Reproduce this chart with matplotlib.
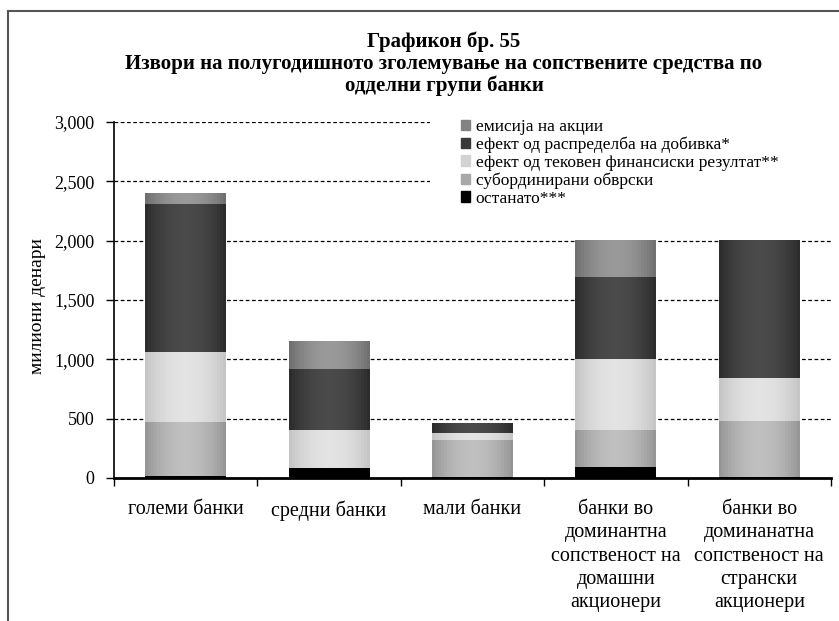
"""
Stacked bar chart: sources of the half-year increase of own funds by bank group
(Графикон бр. 55). Grey cylinder-like shading drawn as thin vertical strips.
"""
import numpy as np
import matplotlib
matplotlib.use("Agg")
import matplotlib.pyplot as plt  # noqa: E402
from matplotlib.lines import Line2D  # noqa: E402
from matplotlib.patches import Rectangle  # noqa: E402

plt.rcParams["font.family"] = ["Liberation Serif", "DejaVu Serif"]

categories = [
    "големи банки",
    "средни банки",
    "мали банки",
    "банки во\nдоминантна\nсопственост на\nдомашни\nакционери",
    "банки во\nдоминанатна\nсопственост на\nстрански\nакционери",
]

# stacked bottom -> top
series_names = [
    "останато***",
    "субординирани обврски",
    "ефект од тековен финансиски резултат**",
    "ефект од распределба на добивка*",
    "емисија на акции",
]
ostanato = [15, 87, 5, 93, 10]
subordinirani = [460, 0, 315, 311, 470]
tekoven = [590, 320, 59, 599, 363]
raspredelba = [1246, 514, 84, 691, 1163]
emisija = [93, 236, 0, 311, 0]
values = [ostanato, subordinirani, tekoven, raspredelba, emisija]

# (edge grey, centre grey) for the horizontal shading of each series
shades = [(0.0, 0.0), (0.57, 0.75), (0.76, 0.89), (0.16, 0.29), (0.42, 0.60)]

yticks = [0, 500, 1000, 1500, 2000, 2500, 3000]
yticklabels = ["0", "500", "1,000", "1,500", "2,000", "2,500", "3,000"]

W, H = 839, 621
fig = plt.figure(figsize=(W / 100, H / 100), dpi=100)
ax = fig.add_axes([114 / W, 1 - 478 / H, 717 / W, 356 / H])

x = np.arange(len(categories))
bar_w = 0.565
n_strips = 27
strip_w = bar_w / n_strips
offsets = (np.arange(n_strips) + 0.5) * strip_w - bar_w / 2
profile = np.sin(np.pi * (np.arange(n_strips) + 0.5) / n_strips) ** 0.8

bottom = np.zeros(len(categories))
handles = []
for name, vals, (edge, centre) in zip(series_names, values, shades):
    vals = np.array(vals, dtype=float)
    for off, p in zip(offsets, profile):
        g = edge + (centre - edge) * p
        ax.bar(x + off, vals, strip_w * 1.02, bottom=bottom, color=(g, g, g),
               linewidth=0, antialiased=False, zorder=3)
    mid = (edge + centre) / 2
    handles.append(Rectangle((0, 0), 1, 1, color=(mid, mid, mid)))
    bottom += vals

ax.set_xlim(-0.5, len(categories) - 0.5)
ax.set_ylim(0, 3000)
ax.set_yticks(yticks)
ax.set_yticklabels(yticklabels, fontsize=13)
ax.set_xticks(x)
ax.set_xticklabels(categories, fontsize=14.5, linespacing=1.3)
ax.set_xticks(np.arange(len(categories) + 1) - 0.5, minor=True)
ax.tick_params(axis="x", which="major", length=0, pad=16)
ax.tick_params(axis="x", which="minor", length=6, width=1, direction="out")
ax.tick_params(axis="y", length=6, width=1, direction="out", pad=8)

ax.yaxis.grid(True, linestyle=(0, (3, 2)), color="black", linewidth=0.9,
              zorder=1)
ax.set_axisbelow(True)
for side in ("top", "right"):
    ax.spines[side].set_visible(False)
ax.spines["left"].set_linewidth(1.2)
ax.spines["bottom"].set_linewidth(2)
ax.spines["bottom"].set_zorder(5)

ax.set_ylabel("милиони денари", fontsize=14, va="center")
ax.yaxis.set_label_coords((37 - 114) / 717, (478 - 306) / 356)

# white box behind the legend hides the upper gridlines
ax.add_patch(Rectangle((430 / W, 1 - 208 / H), 1, 96 / H,
                       transform=fig.transFigure, facecolor="white",
                       edgecolor="none", zorder=2))
leg = fig.legend(handles[::-1], series_names[::-1], loc="upper left",
                 bbox_to_anchor=(447 / W, 1 - 105 / H), frameon=False,
                 fontsize=12.5, handlelength=0.55, handleheight=0.55,
                 handletextpad=0.3, labelspacing=0.1, borderpad=0.3)

fig.text(444 / W, 1 - 42 / H, "Графикон бр. 55", ha="center", va="center",
         fontsize=15, fontweight="bold")
fig.text(444 / W, 1 - 75 / H,
         "Извори на полугодишното зголемување на сопствените средства по\n"
         "одделни групи банки",
         ha="center", va="center", fontsize=15, fontweight="bold",
         linespacing=1.05)

# outer frame of the chart object
fig.add_artist(Line2D([8 / W, 8 / W], [0, 1 - 11 / H], color="#555555",
                      linewidth=1.5, transform=fig.transFigure))
fig.add_artist(Line2D([8 / W, 1], [1 - 11 / H, 1 - 11 / H], color="#555555",
                      linewidth=1.5, transform=fig.transFigure))

fig.savefig("out.png", dpi=100)
